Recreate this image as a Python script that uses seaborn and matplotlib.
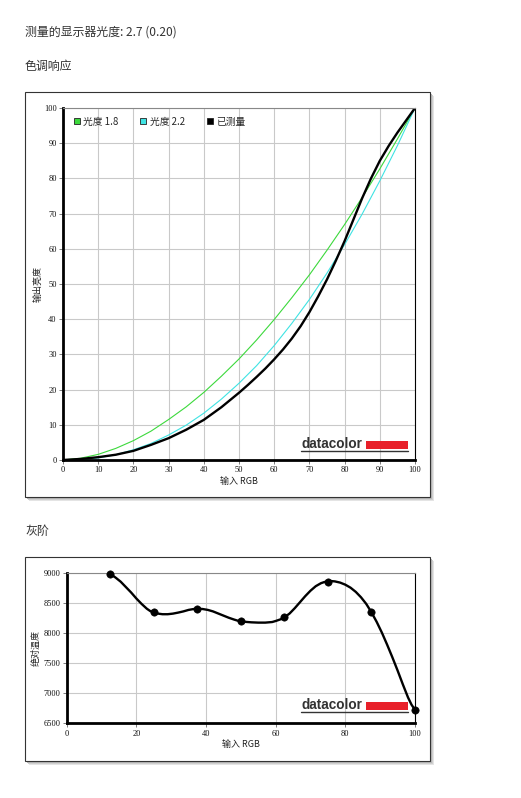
import numpy as np
import pandas as pd
import matplotlib
matplotlib.use("Agg")
import matplotlib.pyplot as plt
from matplotlib.patches import Rectangle
from matplotlib.lines import Line2D
import seaborn as sns

# %%
# データ
# --------------------------------
rgb = [0, 5, 10, 15, 20, 25, 30, 35, 40, 45, 50, 55, 60, 65, 70, 75, 80, 85, 90, 95, 100]
gamma18 = [0, 0.5, 1.6, 3.3, 5.5, 8.2, 11.5, 15.1, 19.2, 23.8, 28.7, 34.1, 39.9, 46.1,
           52.6, 59.6, 66.9, 74.6, 82.7, 91.2, 100]
gamma22 = [0, 0.1, 0.6, 1.5, 2.9, 4.7, 7.1, 9.9, 13.3, 17.3, 21.8, 26.8, 32.5, 38.8,
           45.6, 53.1, 61.2, 69.9, 79.3, 89.3, 100]

meas_x = [0, 5, 10, 15, 20, 25, 30, 35, 40, 45, 50, 52.5, 55, 57.5, 60, 62.5, 65, 67.5, 70,
          72.5, 75, 77.5, 80, 82.5, 85, 87.5, 90, 92.5, 95, 97.5, 100]
measured = [0, 0.3, 0.8, 1.5, 2.6, 4.3, 6.2, 8.6, 11.4, 15.0, 19.1, 21.3, 23.6, 26.0,
            28.6, 31.4, 34.5, 38.0, 42.0, 46.5, 51.3, 56.6, 62.2, 68.3, 74.4, 80.0,
            85.0, 89.2, 93.0, 96.5, 100]

gray_x = [12.5, 25, 37.5, 50, 62.5, 75, 87.5, 100]
gray_k = [8990, 8350, 8410, 8200, 8265, 8860, 8350, 6725]
# 曲線のなぞり
trace_x = [12.5, 14, 15.5, 17, 18.5, 20, 21.5, 23, 24, 25,
           26, 27.5, 29, 30.5, 32, 33.5, 35, 36.5, 37.5,
           39, 40.5, 42, 43.5, 45, 46.5, 48, 49, 50,
           51.5, 53, 55, 57, 59, 60, 61.5, 62.5,
           64, 65.5, 67, 68.5, 70, 71.5, 73, 74, 75, 76, 77, 78.5, 80, 81.5, 83, 84.5, 86,
           87.5, 89, 90.5, 92, 93.5, 95, 96.5, 98, 99, 100]
trace_k = [8990, 8930, 8860, 8770, 8680, 8580, 8490, 8410, 8370, 8350,
           8330, 8318, 8318, 8328, 8345, 8365, 8390, 8405, 8410,
           8405, 8390, 8365, 8330, 8295, 8260, 8230, 8212, 8200,
           8190, 8183, 8178, 8178, 8188, 8205, 8235, 8265,
           8330, 8420, 8520, 8620, 8710, 8785, 8835, 8855, 8865, 8870, 8865, 8845, 8810,
           8760, 8690, 8600, 8490,
           8350, 8190, 8010, 7810, 7600, 7380, 7150, 6930, 6810, 6725]

legend_labels = ["光度 1.8", "光度 2.2", "已测量"]
colors = ["#3cd93c", "#3fe3e3", "#000000"]

# %%
# スタイル設定
# --------------------------------
sns.set_theme(style="white")
plt.rcParams["font.family"] = ["Noto Sans CJK SC", "DejaVu Sans"]

W, H = 521, 798
fig = plt.figure(figsize=(W / 100, H / 100), dpi=100)
fig.patch.set_facecolor("white")


def fx(px):
    return px / W


def fy(py):
    return 1 - py / H


def frame(x0, y0, x1, y1):
    # 影とフレーム
    for off, c in [(4, "#e4e4e4"), (3, "#cfcfcf"), (2, "#b8b8b8")]:
        fig.patches.append(Rectangle((fx(x0 + off), fy(y1 + off)), fx(x1 - x0), (y1 - y0) / H,
                                     transform=fig.transFigure, facecolor=c, edgecolor="none", zorder=-3))
    fig.patches.append(Rectangle((fx(x0), fy(y1)), fx(x1 - x0), (y1 - y0) / H,
                                 transform=fig.transFigure, facecolor="white", edgecolor="#333333",
                                 linewidth=0.8, zorder=-2))


def logo(ax_px_y):
    fig.text(fx(301), fy(ax_px_y), "datacolor", fontsize=9.8, fontweight="bold",
             family=["Liberation Sans", "DejaVu Sans"], color="#333333", va="baseline", ha="left",
             zorder=6)
    fig.patches.append(Rectangle((fx(366), fy(ax_px_y + 1)), fx(42), 8.5 / H,
                                 transform=fig.transFigure, facecolor="#e8202a", edgecolor="none", zorder=5))
    fig.lines.append(Line2D([fx(301), fx(408)], [fy(ax_px_y + 3), fy(ax_px_y + 3)],
                            transform=fig.transFigure, color="#333333", linewidth=1.0, zorder=5))


def style_axes(ax):
    ax.set_facecolor("white")
    ax.grid(True, color="#c9c9c9", linewidth=0.8)
    ax.spines["left"].set_linewidth(2.0)
    ax.spines["bottom"].set_linewidth(2.0)
    ax.spines["left"].set_color("black")
    ax.spines["bottom"].set_color("black")
    ax.spines["top"].set_color("#888888")
    ax.spines["top"].set_linewidth(0.8)
    ax.spines["right"].set_color("black")
    ax.spines["right"].set_linewidth(0.8)
    ax.tick_params(axis="both", direction="out", length=3, width=0.6, color="#666666",
                   labelsize=6, pad=1.5, left=True, bottom=True)
    for lab in ax.get_xticklabels() + ax.get_yticklabels():
        lab.set_family(["Liberation Serif", "DejaVu Serif"])
        lab.set_color("#111111")


# 見出し
fig.text(fx(25), fy(32), "测量的显示器光度: 2.7 (0.20)", fontsize=8.6, color="#333333", va="center")
fig.text(fx(25), fy(66), "色调响应", fontsize=8.6, color="#333333", va="center")
fig.text(fx(25), fy(531), "灰阶", fontsize=8.6, color="#333333", va="center")

# %%
# 色調応答
# --------------------------------
frame(25, 92, 430, 497)
ax1 = fig.add_axes([fx(63), fy(460), fx(352), 352 / H])
df1 = pd.DataFrame({"rgb": rgb, "g18": gamma18, "g22": gamma22})
df_meas = pd.DataFrame({"rgb": meas_x, "meas": measured})
sns.lineplot(data=df1, x="rgb", y="g18", ax=ax1, color=colors[0], linewidth=0.8, legend=False)
sns.lineplot(data=df1, x="rgb", y="g22", ax=ax1, color=colors[1], linewidth=0.8, legend=False)
sns.lineplot(data=df_meas, x="rgb", y="meas", ax=ax1, color=colors[2], linewidth=1.7, legend=False)
ax1.set_xlim(0, 100)
ax1.set_ylim(0, 100)
ax1.set_xticks(range(0, 101, 10))
ax1.set_yticks(range(0, 101, 10))
ax1.set_xlabel("输入 RGB", fontsize=6.5, labelpad=2, color="#222222")
ax1.set_ylabel("输出亮度", fontsize=6.5, labelpad=1, color="#222222")
style_axes(ax1)
handles = [Line2D([], [], linestyle="none", marker="s", markersize=5, markerfacecolor=c,
                  markeredgecolor="#222222", markeredgewidth=0.6) for c in colors]
ax1.legend(handles, legend_labels, loc="upper left", bbox_to_anchor=(0.005, 1.0), ncol=3,
           frameon=False, fontsize=7, handlelength=0.7, handletextpad=0.3, columnspacing=2.2)
logo(448)

# %%
# グレースケール
# --------------------------------
frame(25, 557, 430, 761)
ax2 = fig.add_axes([fx(66.7), fy(723.3), fx(348.3), 150 / H])
df_trace = pd.DataFrame({"x": trace_x, "k": trace_k})
df_pts = pd.DataFrame({"x": gray_x, "k": gray_k})
sns.lineplot(data=df_trace, x="x", y="k", ax=ax2, color="black", linewidth=1.7, legend=False)
sns.scatterplot(data=df_pts, x="x", y="k", ax=ax2, color="black", s=28, edgecolor="black",
                legend=False, zorder=5, clip_on=False)
ax2.set_xlim(0, 100)
ax2.set_ylim(6500, 9000)
ax2.set_xticks(range(0, 101, 20))
ax2.set_yticks(range(6500, 9001, 500))
ax2.set_xlabel("输入 RGB", fontsize=6.5, labelpad=2, color="#222222")
ax2.set_ylabel("绝对温度", fontsize=6.5, labelpad=2, color="#222222")
style_axes(ax2)
logo(709)

fig.savefig("out.png", dpi=100, facecolor="white")
